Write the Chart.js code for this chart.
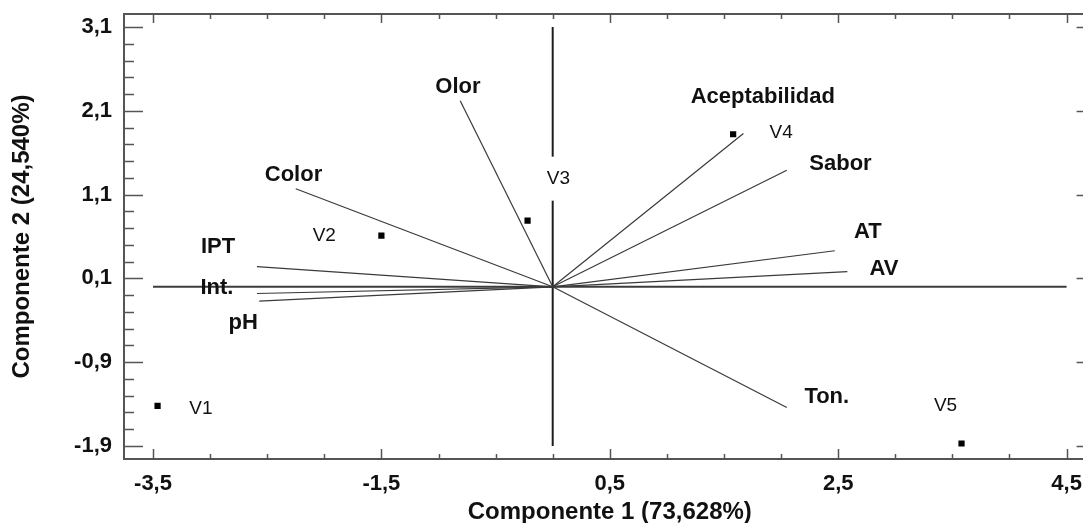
<!DOCTYPE html>
<html>
<head>
<meta charset="utf-8">
<script src="https://cdn.jsdelivr.net/npm/chart.js@4/dist/chart.umd.min.js"></script>
<style>
  html, body { margin: 0; padding: 0; background: #ffffff; overflow: hidden; }
  canvas { display: block; }
</style>
</head>
<body>
<canvas id="chart" width="1100" height="523"></canvas>
<script>
"use strict";

// variable loadings (Componente 1, Componente 2)
const var_names = ['Olor', 'Aceptabilidad', 'Sabor', 'AT', 'AV', 'Ton.', 'Color', 'IPT', 'Int.', 'pH'];
const var_x = [-0.81, 1.67, 2.05, 2.47, 2.58, 2.05, -2.25, -2.59, -2.59, -2.57];
const var_y = [2.22, 1.83, 1.39, 0.43, 0.18, -1.44, 1.17, 0.24, -0.08, -0.17];
// where each variable name sits, in chart units
const var_label_x = [-0.83, 1.84, 2.52, 2.76, 2.90, 2.40, -2.27, -2.93, -2.94, -2.71];
const var_label_y = [2.39, 2.26, 1.47, 0.66, 0.21, -1.32, 1.34, 0.47, -0.01, -0.43];

// sample scores
const sample_names = ['V1', 'V2', 'V3', 'V4', 'V5'];
const sample_x = [-3.46, -1.50, -0.22, 1.58, 3.58];
const sample_y = [-1.42, 0.61, 0.79, 1.82, -1.87];
const sample_label_x = [-3.08, -2.00, 0.05, 2.00, 3.44];
const sample_label_y = [-1.45, 0.61, 1.29, 1.84, -1.42];

// reference cross through the origin
const cross_h_x = [-3.5, 4.5];
const cross_v_y = [-1.9, 3.1];

// axes
const x_ticks = [-3.5, -1.5, 0.5, 2.5, 4.5];
const y_ticks = [-1.9, -0.9, 0.1, 1.1, 2.1, 3.1];
const x_range = [-3.754, 4.754];
const y_range = [-2.055, 3.255];

const fmt = v => v.toFixed(1).replace('.', ',');
const label_font = '"Liberation Sans", Arial, sans-serif';

var datasets = var_names.map((name, i) => ({
  label: name,
  data: [{ x: 0, y: 0 }, { x: var_x[i], y: var_y[i] }],
  showLine: true,
  borderColor: '#3a3a3a',
  borderWidth: 1.2,
  pointRadius: 0,
}));

datasets.push({
  label: 'eje1',
  data: cross_h_x.map(x => ({ x: x, y: 0 })),
  showLine: true,
  borderColor: '#3c3c3c',
  borderWidth: 2,
  pointRadius: 0,
});
datasets.push({
  label: 'eje2',
  data: cross_v_y.map(y => ({ x: 0, y: y })),
  showLine: true,
  borderColor: '#1e1e1e',
  borderWidth: 2,
  pointRadius: 0,
});
datasets.push({
  label: 'muestras',
  data: sample_x.map((x, i) => ({ x: x, y: sample_y[i] })),
  showLine: false,
  pointStyle: 'rect',
  pointRadius: 4.4,
  backgroundColor: '#000000',
  borderWidth: 0,
});

// frame, inner tick marks and text labels
const biplot_plugin = {
  id: 'biplot',
  afterDatasetsDraw(chart) {
    const ctx = chart.ctx;
    const area = chart.chartArea;
    const xs = chart.scales.x;
    const ys = chart.scales.y;

    ctx.save();

    // variable names
    ctx.font = 'bold 22px ' + label_font;
    ctx.fillStyle = '#111111';
    ctx.textAlign = 'center';
    ctx.textBaseline = 'middle';
    var_names.forEach((name, i) => {
      ctx.fillText(name, xs.getPixelForValue(var_label_x[i]), ys.getPixelForValue(var_label_y[i]));
    });

    // sample names, on a white box
    ctx.font = '19px ' + label_font;
    sample_names.forEach((name, i) => {
      const px = xs.getPixelForValue(sample_label_x[i]);
      const py = ys.getPixelForValue(sample_label_y[i]);
      const w = ctx.measureText(name).width;
      ctx.fillStyle = '#ffffff';
      ctx.fillRect(px - w / 2 - 4, py - 22, w + 8, 44);
      ctx.fillStyle = '#111111';
      ctx.fillText(name, px, py);
    });

    // frame
    ctx.strokeStyle = '#555555';
    ctx.lineWidth = 2;
    ctx.strokeRect(area.left, area.top, area.right - area.left, area.bottom - area.top);

    // tick marks inside the frame
    ctx.lineWidth = 1.5;
    ctx.beginPath();
    for (let k = 0; k <= 16; k++) {
      const v = Math.round((x_ticks[0] + k * 0.5) * 10) / 10;
      const major = x_ticks.includes(v);
      const px = Math.round(xs.getPixelForValue(v)) + 0.5;
      ctx.moveTo(px, area.bottom);
      ctx.lineTo(px, area.bottom - (major ? 10 : 5));
      ctx.moveTo(px, area.top);
      ctx.lineTo(px, area.top + (major ? 9 : 5));
    }
    for (let k = 0; k <= 25; k++) {
      const v = Math.round((y_ticks[0] + k * 0.2) * 10) / 10;
      const major = y_ticks.includes(v);
      const py = Math.round(ys.getPixelForValue(v)) + 0.5;
      ctx.moveTo(area.left, py);
      ctx.lineTo(area.left + (major ? 19 : 10), py);
      ctx.moveTo(area.right, py);
      ctx.lineTo(area.right - (major ? 19 : 10), py);
    }
    ctx.stroke();

    ctx.restore();
  },
};

// the frame is fixed: no extra room for the outer tick labels
function no_label_padding(scale) {
  scale.paddingTop = 0;
  scale.paddingBottom = 0;
  scale.paddingLeft = 0;
  scale.paddingRight = 0;
}

var chart = new Chart(document.getElementById('chart'), {
  type: 'scatter',
  data: { datasets: datasets },
  plugins: [biplot_plugin],
  options: {
    responsive: false,
    animation: false,
    devicePixelRatio: 1,
    layout: { padding: { top: 14, right: 4, left: 0, bottom: 0 } },
    plugins: {
      legend: { display: false },
      tooltip: { enabled: false },
    },
    scales: {
      x: {
        type: 'linear',
        min: x_range[0],
        max: x_range[1],
        afterBuildTicks: scale => { scale.ticks = x_ticks.map(v => ({ value: v })); },
        afterFit: scale => { scale.height = 64; no_label_padding(scale); },
        grid: { display: false, drawTicks: false },
        border: { display: false },
        ticks: {
          autoSkip: false,
          maxRotation: 0,
          padding: 12,
          color: '#111111',
          font: { family: label_font, size: 22, weight: 'bold' },
          callback: v => fmt(v),
        },
        title: {
          display: true,
          text: 'Componente 1 (73,628%)',
          color: '#111111',
          padding: 0,
          font: { family: label_font, size: 24, weight: 'bold', lineHeight: 0.9 },
        },
      },
      y: {
        type: 'linear',
        min: y_range[0],
        max: y_range[1],
        afterBuildTicks: scale => { scale.ticks = y_ticks.map(v => ({ value: v })); },
        afterFit: scale => { scale.width = 124; no_label_padding(scale); },
        grid: { display: false, drawTicks: false },
        border: { display: false },
        ticks: {
          autoSkip: false,
          padding: 12,
          color: '#111111',
          font: { family: label_font, size: 22, weight: 'bold' },
          callback: v => fmt(v),
        },
        title: {
          display: true,
          text: 'Componente 2 (24,540%)',
          color: '#111111',
          padding: { top: 8, bottom: 0 },
          font: { family: label_font, size: 24, weight: 'bold' },
        },
      },
    },
  },
});
</script>
</body>
</html>
